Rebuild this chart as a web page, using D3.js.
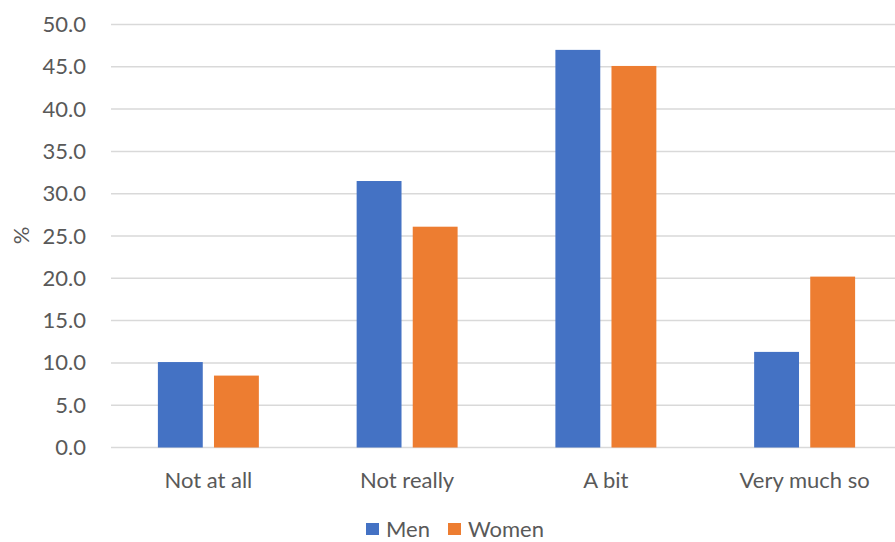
<!DOCTYPE html>
<html>
<head>
<meta charset="utf-8">
<script src="https://cdn.jsdelivr.net/npm/d3@7"></script>
<style>
  html, body { margin: 0; padding: 0; background: #fff; }
  svg { display: block; }
  text { font-family: Lato, "Open Sans", sans-serif; fill: #595959; }
</style>
</head>
<body>
<svg id="chart" width="895" height="542"></svg>
<script>
// Survey responses by gender (%)
const categories = ["Not at all", "Not really", "A bit", "Very much so"];
const seriesNames = ["Men", "Women"];
const men   = [10.1, 31.5, 47.0, 11.3];
const women = [8.5, 26.1, 45.1, 20.2];
const yTicks = [0, 5, 10, 15, 20, 25, 30, 35, 40, 45, 50];
const colors = ["#4472C4", "#ED7D31"];

const rows = categories.map((c, i) => ({ category: c, values: [men[i], women[i]] }));

const svg = d3.select("#chart");
const W = 895, H = 542;

const x0 = d3.scaleBand().domain(categories).range([109, 904])
  .paddingInner(0.492).paddingOuter(0.246);
const x1 = d3.scaleBand().domain(seriesNames).range([0, x0.bandwidth()]).paddingInner(0.2);
const y = d3.scaleLinear().domain([0, 50]).range([447.5, 24.5]);

// horizontal gridlines
svg.append("g").selectAll("line").data(yTicks).join("line")
  .attr("x1", 111).attr("x2", W)
  .attr("y1", d => y(d)).attr("y2", d => y(d))
  .attr("stroke", "#d9d9d9").attr("stroke-width", 1.5);

// y axis labels
const yAxis = d3.axisLeft(y).tickValues(yTicks).tickFormat(d3.format(".1f")).tickSize(0).tickPadding(0);
const ya = svg.append("g").attr("transform", "translate(86,0)").call(yAxis);
ya.select(".domain").remove();
ya.selectAll("text").attr("font-size", 22).attr("fill", "#595959")
  .style("font-family", "Lato, 'Open Sans', sans-serif");

// y axis title
svg.append("text")
  .attr("transform", "translate(29,235.5) rotate(-90)")
  .attr("text-anchor", "middle").attr("font-size", 22).text("%");

// bars
const groups = svg.append("g").selectAll("g").data(rows).join("g")
  .attr("transform", d => `translate(${x0(d.category)},0)`);
groups.selectAll("rect")
  .data(d => d.values.map((v, i) => ({ key: seriesNames[i], value: v, i })))
  .join("rect")
  .attr("x", d => x1(d.key))
  .attr("width", x1.bandwidth())
  .attr("y", d => y(d.value))
  .attr("height", d => y(0) - y(d.value))
  .attr("fill", d => colors[d.i]);

// category labels
const xAxis = d3.axisBottom(x0).tickSize(0).tickPadding(0);
const xa = svg.append("g").attr("transform", "translate(0,472)").call(xAxis);
xa.select(".domain").remove();
xa.selectAll("text").attr("font-size", 22).attr("fill", "#595959")
  .attr("dy", null).attr("y", 16)
  .style("font-family", "Lato, 'Open Sans', sans-serif");

// legend
const legendX = [366, 448];
const lg = svg.append("g").selectAll("g").data(seriesNames).join("g")
  .attr("transform", (d, i) => `translate(${legendX[i]},0)`);
lg.append("rect").attr("x", 0).attr("y", 523).attr("width", 13).attr("height", 12)
  .attr("fill", (d, i) => colors[i]);
lg.append("text").attr("x", 20).attr("y", 537).attr("font-size", 22).text(d => d);
</script>
</body>
</html>
